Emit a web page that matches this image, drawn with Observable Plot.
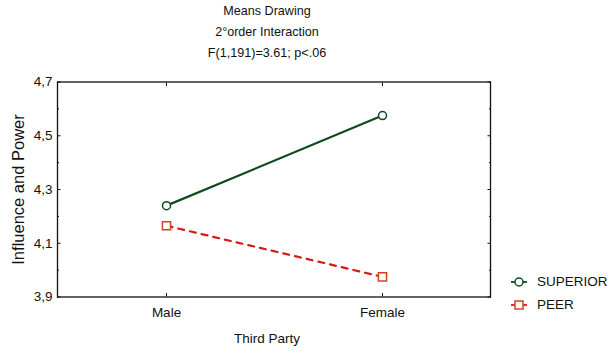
<!DOCTYPE html>
<html>
<head>
<meta charset="utf-8">
<script src="https://cdn.jsdelivr.net/npm/d3@7"></script>
<script src="https://cdn.jsdelivr.net/npm/@observablehq/plot@0.6"></script>
<style>
  html, body { margin: 0; padding: 0; background: #fff; }
  #wrap { position: relative; width: 610px; height: 351px; font-family: "Liberation Sans", Arial, sans-serif; }
  #title { position: absolute; left: 0; width: 534px; top: 1px; text-align: center; font-family: "Liberation Sans Narrow", "Liberation Sans", sans-serif; font-size: 12.6px; line-height: 21px; color: #111; }
  #legend { position: absolute; left: 509px; top: 270px; font-size: 13.5px; color: #111; }
  #legend .item { display: flex; align-items: center; height: 23px; }
  #legend svg { margin-right: 8px; }
</style>
</head>
<body>
<div id="wrap">
  <div id="chart"></div>
  <div id="title"></div>
  <div id="legend"></div>
</div>
<script>
const titleLines = ["Means Drawing", "2°order Interaction", "F(1,191)=3.61; p<.06"];
const categories = ["Male", "Female"];
const superiorValues = [4.24, 4.575];
const peerValues = [4.165, 3.975];
const seriesNames = ["SUPERIOR", "PEER"];
const majorTicks = [3.9, 4.1, 4.3, 4.5, 4.7];
const minorTicks = [4.0, 4.2, 4.4, 4.6];
const xLabel = "Third Party";
const yLabel = "Influence and Power";

const green = "#0f4a1c";
const red = "#d61a14";
const redMarker = "#d8421e";

const superior = categories.map((c, i) => ({cat: c, v: superiorValues[i]}));
const peer = categories.map((c, i) => ({cat: c, v: peerValues[i]}));
const fmt = d => d.toFixed(1).replace(".", ",");
const blank = () => "";

const chart = Plot.plot({
  width: 610,
  height: 351,
  marginLeft: 57,
  marginRight: 120,
  marginTop: 81.5,
  marginBottom: 54.5,
  style: {fontFamily: "'Liberation Sans', Arial, sans-serif", fontSize: "13.5px", color: "#111", background: "white"},
  x: {type: "point", domain: categories, padding: 0.5, label: null},
  y: {domain: [3.9, 4.7], label: null},
  marks: [
    Plot.frame({stroke: "#111", strokeWidth: 1.3}),
    Plot.axisY(majorTicks, {anchor: "left", tickSize: -3.5, tickFormat: blank, strokeWidth: 1}),
    Plot.axisY(minorTicks, {anchor: "left", tickSize: -2, tickFormat: blank, strokeWidth: 1}),
    Plot.axisY(majorTicks, {anchor: "right", tickSize: -3.5, tickFormat: blank, strokeWidth: 1}),
    Plot.axisY(minorTicks, {anchor: "right", tickSize: -2, tickFormat: blank, strokeWidth: 1}),
    Plot.axisY(majorTicks, {anchor: "left", tickSize: 0, tickPadding: 5, tickFormat: fmt, fontSize: 13.5, label: yLabel, labelAnchor: "center", labelOffset: 45, labelArrow: "none"}),
    Plot.axisX(categories, {anchor: "bottom", tickSize: -3.5, tickFormat: blank}),
    Plot.axisX(categories, {anchor: "top", tickSize: -3.5, tickFormat: blank}),
    Plot.axisX(categories, {anchor: "bottom", tickSize: 0, tickPadding: 10, fontSize: 13.5, label: xLabel, labelAnchor: "center", labelOffset: 46, labelArrow: "none"}),
    Plot.line(superior, {x: "cat", y: "v", stroke: green, strokeWidth: 2.2}),
    Plot.line(peer, {x: "cat", y: "v", stroke: red, strokeWidth: 2.2, strokeDasharray: "6,6"}),
    Plot.dot(superior, {x: "cat", y: "v", symbol: "circle", r: 4, stroke: green, strokeWidth: 1.5, fill: "white"}),
    Plot.dot(peer, {x: "cat", y: "v", symbol: "square", r: 4.6, stroke: redMarker, strokeWidth: 1.5, fill: "white"})
  ]
});
document.getElementById("chart").appendChild(chart);
chart.querySelectorAll("text").forEach(t => {
  if (t.textContent === yLabel) t.setAttribute("font-size", "16.5");
  if (t.textContent === xLabel) t.setAttribute("dx", "-7");
});

document.getElementById("title").innerHTML = titleLines.map(s => `<div>${s.replace(/</g, "&lt;")}</div>`).join("");

const legend = document.getElementById("legend");
const legendStyles = [
  {color: green, marker: `<circle cx="10" cy="8" r="4" fill="white" stroke="${green}" stroke-width="1.5"/>`},
  {color: red, marker: `<rect x="6" y="4" width="8" height="8" fill="white" stroke="${redMarker}" stroke-width="1.5"/>`}
];
seriesNames.forEach((name, i) => {
  const s = legendStyles[i];
  legend.insertAdjacentHTML("beforeend",
    `<div class="item"><svg width="20" height="16"><line x1="2" x2="18" y1="8" y2="8" stroke="${s.color}" stroke-width="1.8"/>${s.marker}</svg><span>${name}</span></div>`);
});
</script>
</body>
</html>
